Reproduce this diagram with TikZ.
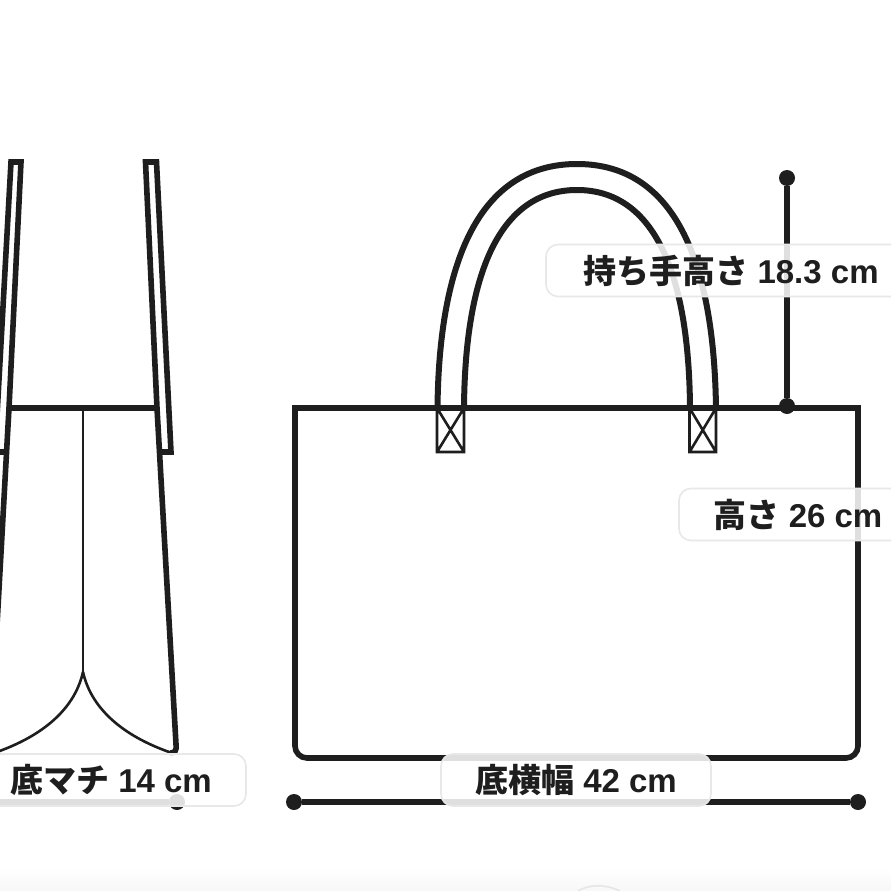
\documentclass[tikz,border=0pt]{standalone}
\usepackage{fontspec}
\setmainfont{Liberation Sans}
\newfontfamily\cjk{Noto Sans CJK JP}
\definecolor{ink}{HTML}{1E1E1E}
\tikzset{
  bagline/.style={draw=ink,line width=5.6pt,line join=miter},
  thinline/.style={draw=ink,line width=2.6pt},
  dimline/.style={draw=ink,line width=5.2pt},
  enddot/.style={circle,fill=ink,inner sep=0pt,minimum size=16pt},
  pill/.style={draw=black!9,line width=1.6pt,fill=white,fill opacity=.86,text opacity=1,rounded corners=12pt,
    minimum height=52pt,inner sep=0pt,text=ink,font=\fontsize{33}{38}\selectfont\bfseries}
}
\begin{document}
\begin{tikzpicture}[x=1pt,y=-1pt]
\useasboundingbox (0,0) rectangle (891,891);
\clip (0,0) rectangle (891,891);
\fill[white] (0,0) rectangle (891,891);
% faint edge at the foot of the picture
\shade[top color=white,bottom color=black!3] (0,868) rectangle (891,891);
\draw[black!10,line width=1.5pt] (578,891) .. controls (590,884) and (605,884) .. (620,891);

% side view
\draw[thinline] (83,408) -- (83,672);
\draw[thinline] (83,672) .. controls (92,712) and (128,738) .. (172,753);
\draw[thinline] (83,672) .. controls (74,712) and (38,738) .. (-6,753);
\draw[bagline,line join=round,rounded corners=5pt] (157,408) -- (176.5,753) -- (170,753);
\draw[bagline] (9,408) -- (-10,752);
\draw[bagline] (9,408) -- (157,408);
\draw[bagline] (157,408) -- (145.5,162) -- (156.5,162) -- (171,452) -- (162,452);
\draw[bagline] (9,408) -- (21,162) -- (11,162) -- (-5,452) -- (4,452);

% front view
\draw[bagline] (295,408) -- (295,746) .. controls (295,752.6) and (300.4,758) .. (307,758)
      -- (846,758) .. controls (852.6,758) and (858,752.6) .. (858,746) -- (858,408) -- cycle;
\draw[bagline,line width=6pt] (437.5,408) .. controls (439,262) and (479,164) .. (577,164)
      .. controls (675,164) and (714,262) .. (716,408);
\draw[bagline,line width=6pt] (464,408) .. controls (465,275) and (499,190) .. (577,190)
      .. controls (655,190) and (689,275) .. (690,408);
\draw[thinline] (437,408) rectangle (464,452) (437,408) -- (464,452) (464,408) -- (437,452);
\draw[thinline] (689.5,408) rectangle (716,452) (689.5,408) -- (716,452) (716,408) -- (689.5,452);

% dimension lines
\node[enddot] (htop) at (787,178) {};
\node[enddot] (hbot) at (787,406) {};
\draw[dimline] (htop) -- (hbot);
\node[enddot] (wleft) at (294,802) {};
\node[enddot] (wright) at (858,802) {};
\draw[dimline] (wleft) -- (wright);
\node[enddot] (gright) at (177,802) {};
\coordinate (gleft) at (-11,802);
\draw[dimline] (gleft) -- (gright);

% labels
\node[pill,minimum width=370pt] (handle) at (731,270.5) {\raisebox{-1pt}{{\cjk 持ち手高さ} 18.3 cm}};
\node[pill,minimum width=238pt] (height) at (798,514.5) {\raisebox{-1pt}{{\cjk 高さ} 26 cm}};
\node[pill,minimum width=270pt] (gusset) at (111,780) {\raisebox{-1pt}{{\cjk 底マチ} 14 cm}};
\node[pill,minimum width=270pt] (width) at (576,780) {\raisebox{-1pt}{{\cjk 底横幅} 42 cm}};
\end{tikzpicture}
\end{document}
